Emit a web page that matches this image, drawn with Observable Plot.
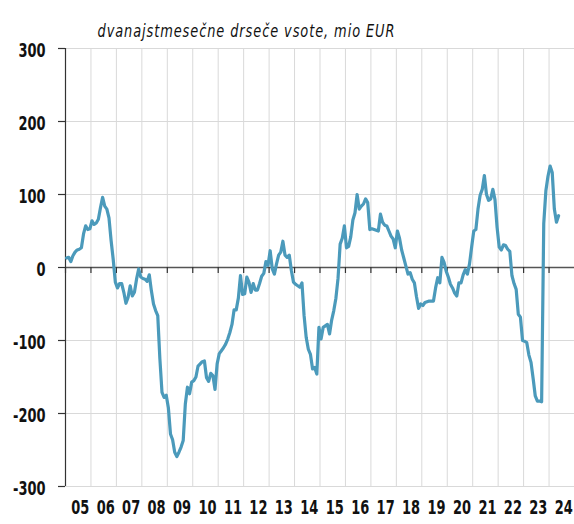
<!DOCTYPE html>
<html><head><meta charset="utf-8">
<script src="https://cdn.jsdelivr.net/npm/d3@7"></script>
<script src="https://cdn.jsdelivr.net/npm/@observablehq/plot@0.6"></script>
<style>
body{margin:0;background:#fff;}
</style></head><body><div id="chart"></div>
<script>
const title = "dvanajstmesečne drseče vsote, mio EUR";
const years = [2005,2006,2007,2008,2009,2010,2011,2012,2013,2014,2015,2016,2017,2018,2019,2020,2021,2022,2023,2024];
const yearLabels = ["05","06","07","08","09","10","11","12","13","14","15","16","17","18","19","20","21","22","23","24"];
const yTicks = [-300,-200,-100,0,100,200,300];

// monthly values (12-month rolling sums, mio EUR)
const y2005 = [13, 14, 8, 16, 21, 24, 25, 27, 46, 57, 52, 53];
const y2006 = [64, 59, 61, 66, 82, 96, 84, 80, 68, 37, 11, -20];
const y2007 = [-28, -22, -22, -34, -49, -41, -25, -39, -34, -16, -2, -13];
const y2008 = [-15, -16, -19, -10, -32, -50, -59, -66, -125, -171, -178, -175];
const y2009 = [-192, -228, -236, -253, -259, -253, -246, -237, -187, -164, -173, -157];
const y2010 = [-155, -150, -135, -132, -129, -128, -151, -156, -145, -148, -167, -132];
const y2011 = [-118, -114, -110, -105, -98, -89, -78, -58, -58, -42, -11, -37];
const y2012 = [-36, -13, -20, -34, -22, -31, -31, -22, -12, -8, 8, 3];
const y2013 = [23, -2, -9, 5, 17, 21, 36, 17, 14, 17, -4, -20];
const y2014 = [-23, -25, -27, -21, -66, -96, -112, -119, -139, -137, -146, -82];
const y2015 = [-98, -82, -80, -78, -91, -72, -59, -42, -15, 32, 40, 57];
const y2016 = [27, 29, 42, 65, 75, 100, 80, 84, 87, 94, 89, 52];
const y2017 = [53, 52, 51, 50, 73, 62, 58, 57, 50, 43, 39, 27];
const y2018 = [50, 40, 24, 13, 2, -9, -7, -16, -21, -40, -56, -50];
const y2019 = [-52, -48, -47, -46, -46, -46, -28, -14, -21, 14, 7, -5];
const y2020 = [-13, -23, -28, -35, -39, -21, -21, -10, -3, -9, 5, 28];
const y2021 = [50, 52, 80, 99, 107, 126, 100, 92, 94, 107, 93, 55];
const y2022 = [28, 24, 31, 30, 25, 22, -11, -22, -30, -64, -68, -100];
const y2023 = [-101, -103, -120, -130, -152, -176, -183, -183, -184, 60, 105, 125];
const y2024 = [139, 130, 80, 62, 71];

const series = [y2005,y2006,y2007,y2008,y2009,y2010,y2011,y2012,y2013,y2014,y2015,y2016,y2017,y2018,y2019,y2020,y2021,y2022,y2023,y2024];
const data = series.flatMap((vals, i) => vals.map((v, m) => ({t: years[i] + (m + 0.5) / 12, v})));
const gridYears = years.slice(1).concat([2025]);

const font = '"Liberation Sans Narrow","DejaVu Sans Condensed",sans-serif';
const chart = Plot.plot({
  width: 574, height: 524,
  marginLeft: 65, marginRight: 0, marginTop: 48, marginBottom: 38,
  x: {domain: [2005, 2025], axis: null},
  y: {domain: [-300, 300], axis: null},
  style: {fontFamily: font, background: "white", overflow: "visible"},
  marks: [
    Plot.ruleX(gridYears, {stroke: "#d9d9d9", strokeWidth: 1}),
    Plot.ruleY(yTicks.filter(d => d !== 0), {stroke: "#d9d9d9", strokeWidth: 1}),
    Plot.ruleY([0], {stroke: "#555", strokeWidth: 1.6}),
    Plot.ruleX(years, {y1: 0, y2: 0, insetBottom: -6, stroke: "#333", strokeWidth: 1.2}),
    Plot.ruleY(yTicks, {x1: 2005, x2: 2005, insetLeft: -7, stroke: "#333", strokeWidth: 1.2}),
    Plot.ruleX([2005], {stroke: "#333", strokeWidth: 1.2}),
    Plot.text(yTicks, {y: d => d, frameAnchor: "left", dx: -20, dy: 2, textAnchor: "end", text: d => String(d), fontSize: 19, fontWeight: "bold", fill: "#111"}),
    Plot.text(years, {x: d => d + 0.5, frameAnchor: "bottom", dx: 2, dy: 27, text: (d, i) => yearLabels[i], fontSize: 19, fontWeight: "bold", fill: "#111"}),
    Plot.line(data, {x: "t", y: "v", stroke: "#4b9abb", strokeWidth: 3.2, strokeLinejoin: "round"}),
    Plot.text([title], {frameAnchor: "top-left", dx: 32, dy: -24, textAnchor: "start", text: d => d, fontSize: 18, fontStyle: "italic", fill: "#111"})
  ]
});
document.getElementById("chart").appendChild(chart);

// narrow the glyphs horizontally to mimic a condensed typeface (x-only scale keeps vertical offsets)
function squeeze(group, k, spacing) {
  if (!group) return;
  group.querySelectorAll("text").forEach(el => {
    const t = el.getAttribute("transform") || "";
    el.setAttribute("transform", t + ` scale(${k},1)`);
    if (spacing) el.setAttribute("letter-spacing", spacing);
  });
}
const textGroups = chart.querySelectorAll('g[aria-label="text"]');
squeeze(textGroups[0], 0.76);
squeeze(textGroups[1], 0.76);
squeeze(textGroups[2], 0.8, 1.15);
</script></body></html>
